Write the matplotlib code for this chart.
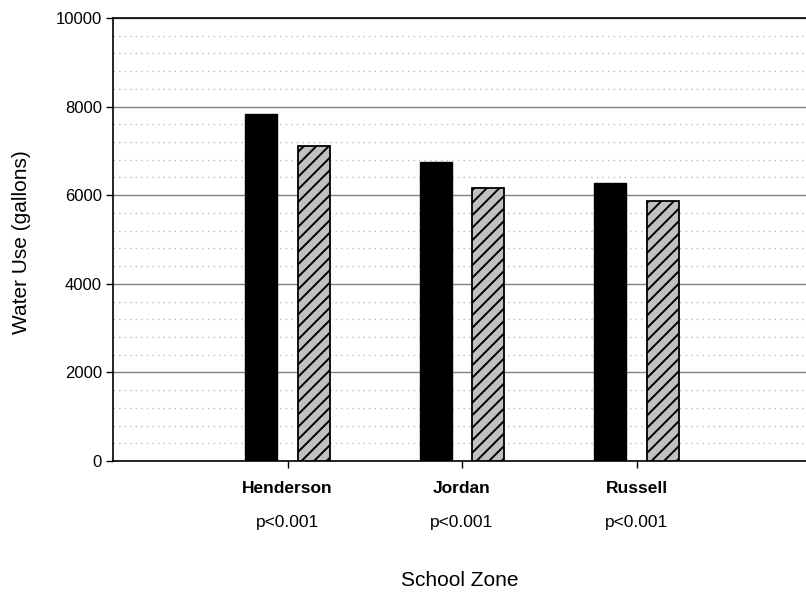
import matplotlib
matplotlib.use("Agg")
import matplotlib.pyplot as plt
from matplotlib.ticker import MultipleLocator
from matplotlib.backend_bases import GraphicsContextBase
import numpy as np

categories = ["Henderson", "Jordan", "Russell"]
series_a = [7830, 6740, 6270]   # black bars
series_b = [7120, 6170, 5860]   # hatched bars
pvalues = ["p<0.001", "p<0.001", "p<0.001"]

# denser single-direction hatch to match the reference spacing
_orig_hatch = GraphicsContextBase.get_hatch_path
def _hatch_path(self, density=16.0):
    return _orig_hatch(self, density=16.0)
GraphicsContextBase.get_hatch_path = _hatch_path

plt.rcParams['font.family'] = ['Liberation Sans', 'DejaVu Sans']
plt.rcParams['hatch.linewidth'] = 1.4

fig = plt.figure(figsize=(8.06, 5.94), dpi=100)
ax = fig.add_axes([113/806, 1 - 461/594, 1 - 113/806, (461 - 18)/594])

x = np.arange(1, len(categories) + 1)
w = 0.183
off = 0.15
ax.bar(x - off, series_a, width=w, color='black', edgecolor='black', linewidth=1, zorder=3)
ax.bar(x + off, series_b, width=w, color='#c0c0c0', edgecolor='black', linewidth=1.3,
       hatch='/', zorder=3)

ax.set_xlim(0, 693/174.5)
ax.set_ylim(0, 10000)
ax.yaxis.set_major_locator(MultipleLocator(2000))
ax.yaxis.set_minor_locator(MultipleLocator(400))
ax.grid(which='major', axis='y', color='#808080', linewidth=1.0, zorder=1)
ax.grid(which='minor', axis='y', color='#b8b8b8', linewidth=1.0, linestyle=(0, (1, 3)), zorder=1)
ax.tick_params(axis='y', which='minor', length=0)
ax.tick_params(axis='y', which='major', length=5, width=1, labelsize=12, pad=3)
ax.set_xticks(x)
ax.set_xticklabels(categories, fontweight='bold', fontsize=12.5)
ax.tick_params(axis='x', length=5, width=1, pad=9.5)

for s in ['left', 'bottom', 'top']:
    ax.spines[s].set_linewidth(1.2)
    ax.spines[s].set_color('black')
ax.spines['right'].set_visible(False)

for xi, p in zip(x, pvalues):
    ax.annotate(p, xy=(xi, 0), xycoords=('data', 'axes fraction'),
                xytext=(0, -61 * 0.72), textcoords='offset points',
                ha='center', va='center', fontsize=12.5)

ax.annotate("School Zone", xy=(0.5, 0), xycoords='axes fraction',
            xytext=(0, -120 * 0.72), textcoords='offset points',
            ha='center', va='center', fontsize=15)
fig.text(22/806, 1 - 242/594, "Water Use (gallons)", rotation=90,
         ha='center', va='center', fontsize=15)

fig.savefig("out.png", dpi=100)
